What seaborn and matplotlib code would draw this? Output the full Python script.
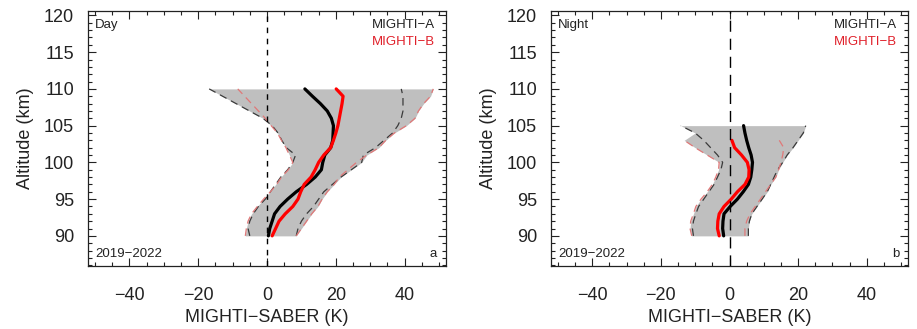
import numpy as np
import pandas as pd
import matplotlib
matplotlib.use("Agg")
import matplotlib.pyplot as plt
import seaborn as sns
from matplotlib.ticker import MultipleLocator

sns.set_theme(style="white")
plt.rcParams['font.family'] = ['Liberation Sans', 'DejaVu Sans']

# ---------------- data ----------------
alt_day = [90, 91, 92, 93, 94, 95, 96, 97, 98, 99, 100,
           101, 102, 103, 104, 105, 106, 107, 108, 109, 110]
day_a_mean = [0.4, 0.8, 1.5, 2.2, 3.8, 6.0, 8.5, 11.5, 14.0, 15.8, 16.2,
              16.8, 18.5, 19.1, 19.2, 19.3, 18.7, 17.5, 15.5, 13.2, 11.0]
day_b_mean = [1.5, 2.5, 3.5, 5.3, 7.5, 9.0, 9.8, 10.8, 12.8, 14.0, 15.0,
              16.5, 18.5, 19.3, 20.0, 20.6, 21.0, 21.4, 21.8, 22.1, 20.1]
day_a_lo = [-5.0, -5.5, -5.0, -4.0, -2.5, -0.5, 1.0, 2.5, 4.0, 6.0, 7.5,
            8.3, 5.6, 4.3, 3.2, 1.5, -1.2, -5.1, -9.0, -12.9, -16.8]
day_b_lo = [-6.3, -6.0, -5.5, -4.5, -2.8, -1.0, 1.0, 2.8, 4.2, 6.2, 7.5,
            6.5, 5.5, 4.2, 3.0, 1.2, -0.5, -2.5, -4.5, -6.5, -8.5]
day_a_hi = [8.5, 9.0, 10.0, 11.5, 13.5, 15.0, 16.5, 19.0, 21.5, 24.5, 27.5,
            28.0, 31.5, 34.0, 36.5, 38.0, 39.0, 39.5, 39.5, 39.5, 39.0]
day_b_hi = [8.5, 10.0, 11.5, 13.0, 14.8, 16.0, 17.5, 19.5, 21.0, 23.5, 26.0,
            29.0, 32.5, 34.5, 37.0, 40.5, 43.0, 44.0, 45.5, 47.5, 48.3]

alt_night = [90, 91, 92, 93, 94, 95, 96, 97, 98, 99, 100, 101, 102, 103, 104, 105]
night_a_mean = [-1.7, -2.0, -1.9, -1.6, 0.2, 2.3, 4.0, 5.5, 6.2, 6.5, 6.7,
                6.3, 5.6, 5.0, 4.5, 4.1]
night_b_mean = [-3.0, -3.5, -3.4, -3.0, -1.6, 0.5, 2.3, 4.5, 5.6, 5.7, 5.2,
                3.5, 1.5, 0.7, np.nan, np.nan]
night_a_lo = [-10.5, -10.8, -10.5, -9.8, -9.0, -7.5, -6.0, -4.5, -3.5, -2.5, -2.0,
              -3.5, -5.5, -7.5, -10.0, -14.2]
night_b_lo = [-11.0, -11.5, -11.3, -10.5, -9.8, -8.3, -6.5, -5.0, -4.0, -3.2, -3.0,
              -6.5, -10.0, -13.2, np.nan, np.nan]
night_a_hi = [5.5, 5.5, 5.8, 6.5, 8.0, 9.5, 11.0, 12.0, 13.0, 14.0, 15.5,
              16.8, 18.5, 20.0, 21.5, 22.2]
night_b_hi = [4.5, 4.5, 5.0, 6.0, 7.5, 9.0, 10.5, 12.0, 13.5, 14.3, 15.0,
              15.5, 15.8, 14.5, np.nan, np.nan]

panels = [
    dict(title="Day", letter="a", alt=alt_day, am=day_a_mean, bm=day_b_mean,
         alo=day_a_lo, blo=day_b_lo, ahi=day_a_hi, bhi=day_b_hi, zdash=(0, (4, 4))),
    dict(title="Night", letter="b", alt=alt_night, am=night_a_mean, bm=night_b_mean,
         alo=night_a_lo, blo=night_b_lo, ahi=night_a_hi, bhi=night_b_hi, zdash=(0, (8, 5))),
]

W, H = 917, 329
fig = plt.figure(figsize=(W / 100, H / 100), dpi=100)
ax_boxes = [(88, 11, 446, 266), (551, 11, 908, 266)]

for p, (x0, y0, x1, y1) in zip(panels, ax_boxes):
    ax = fig.add_axes([x0 / W, 1 - y1 / H, (x1 - x0) / W, (y1 - y0) / H])
    alt = np.array(p["alt"], dtype=float)
    alo = np.array(p["alo"], dtype=float)
    blo = np.array(p["blo"], dtype=float)
    ahi = np.array(p["ahi"], dtype=float)
    bhi = np.array(p["bhi"], dtype=float)
    lo = np.fmin(alo, blo)
    hi = np.fmax(ahi, bhi)
    ax.fill_betweenx(alt, lo, hi, color="#bfbfbf", lw=0, zorder=1)

    def draw(vals, color, lw, ls):
        df = pd.DataFrame({"x": np.array(vals, dtype=float), "y": alt}).dropna()
        sns.lineplot(data=df, x="x", y="y", orient="y", sort=False, ax=ax,
                     color=color, lw=lw, linestyle=ls, zorder=3)

    draw(p["alo"], "#3a3a3a", 0.9, (0, (6, 4)))
    draw(p["ahi"], "#3a3a3a", 0.9, (0, (6, 4)))
    draw(p["blo"], "#e07878", 0.9, (0, (6, 4)))
    draw(p["bhi"], "#e07878", 0.9, (0, (6, 4)))
    draw(p["am"], "black", 2.3, "-")
    draw(p["bm"], "#ff0000", 2.3, "-")

    ax.axvline(0, color="black", lw=1.0, linestyle=p["zdash"], zorder=4)

    ax.set_xlim(-52, 52)
    ax.set_ylim(85.9, 120.6)
    ax.xaxis.set_major_locator(MultipleLocator(20))
    ax.xaxis.set_minor_locator(MultipleLocator(5))
    ax.yaxis.set_major_locator(MultipleLocator(5))
    ax.yaxis.set_minor_locator(MultipleLocator(1))
    ax.tick_params(which="both", direction="in", top=True, right=True,
                   bottom=True, left=True, color="#222222", width=0.8)
    ax.tick_params(which="major", length=6, labelsize=13, labelcolor="#222222")
    ax.tick_params(axis="x", which="major", pad=15)
    ax.tick_params(axis="y", which="major", pad=10)
    ax.tick_params(which="minor", length=3)
    yt = [90, 95, 100, 105, 110, 115, 120]
    ax.set_yticks(yt)
    ax.set_yticklabels([str(v) for v in yt])
    xt = [-40, -20, 0, 20, 40]
    ax.set_xticks(xt)
    ax.set_xticklabels([str(v).replace("-", "\u2212") for v in xt])
    for s in ax.spines.values():
        s.set_color("#222222")
        s.set_linewidth(0.9)
    ax.set_xlabel("MIGHTI\u2212SABER (K)", fontsize=13, color="#222222", labelpad=4)
    ax.set_ylabel("Altitude (km)", fontsize=13, color="#222222", labelpad=7)

    ax.text(0.02, 0.945, p["title"], transform=ax.transAxes, fontsize=9.5,
            ha="left", va="center", color="#222222")
    ax.text(0.97, 0.945, "MIGHTI\u2212A", transform=ax.transAxes, fontsize=9.5,
            ha="right", va="center", color="#222222")
    ax.text(0.97, 0.88, "MIGHTI\u2212B", transform=ax.transAxes, fontsize=9.5,
            ha="right", va="center", color="#e0202a")
    ax.text(0.02, 0.025, "2019\u22122022", transform=ax.transAxes, fontsize=9.5,
            ha="left", va="bottom", color="#222222")
    ax.text(0.975, 0.025, p["letter"], transform=ax.transAxes, fontsize=9.5,
            ha="right", va="bottom", color="#222222")

fig.savefig("out.png", dpi=100)
